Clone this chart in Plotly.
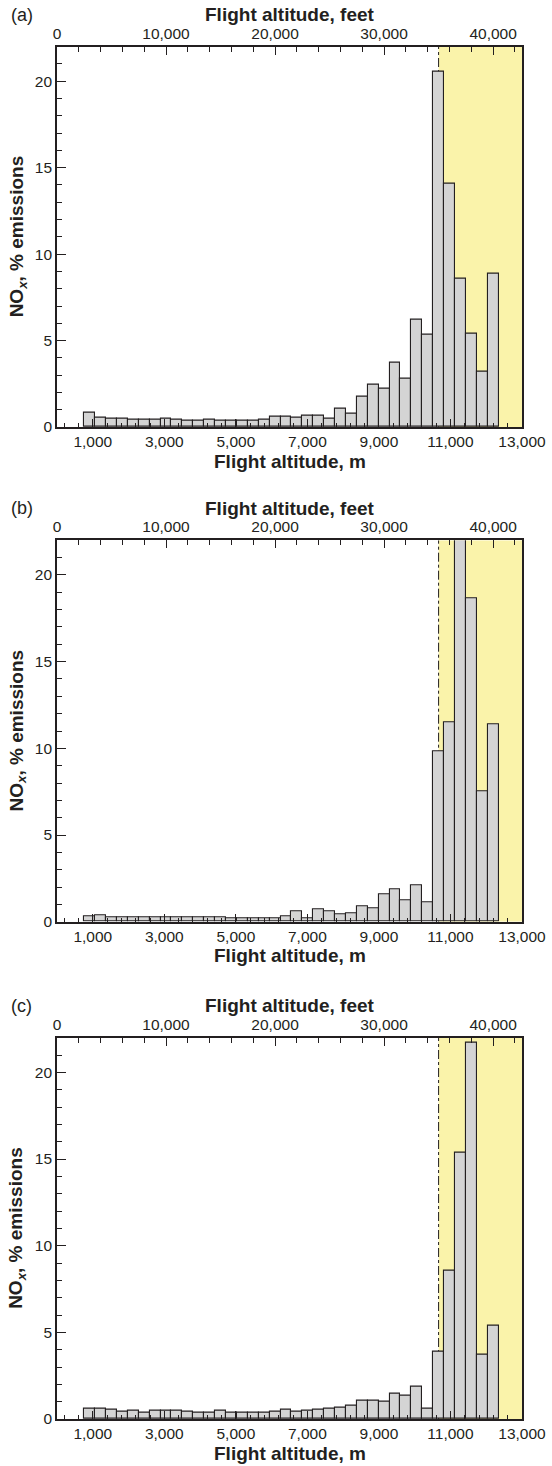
import plotly.graph_objects as go

W, H = 552, 1466

# NOx emissions (% of total) in 1000-ft altitude bins, centred on 3,000 ... 40,000 ft
altitude_ft = list(range(3000, 41000, 1000))

nox_a = [0.85, 0.54, 0.46, 0.48, 0.42, 0.42, 0.44, 0.50, 0.44, 0.38,
         0.38, 0.44, 0.38, 0.38, 0.38, 0.38, 0.40, 0.60, 0.60, 0.56,
         0.65, 0.63, 0.48, 1.04, 0.75, 1.76, 2.42, 2.23, 3.73, 2.81,
         6.21, 5.33, 20.53, 14.07, 8.57, 5.37, 3.19, 8.88]

nox_b = [0.29, 0.37, 0.25, 0.25, 0.25, 0.23, 0.25, 0.25, 0.25, 0.27,
         0.25, 0.23, 0.23, 0.19, 0.19, 0.19, 0.19, 0.19, 0.31, 0.58,
         0.19, 0.73, 0.58, 0.44, 0.46, 0.88, 0.77, 1.60, 1.85, 1.25,
         2.08, 1.12, 9.84, 11.52, 24.0, 18.65, 7.50, 11.38]

nox_c = [0.60, 0.60, 0.52, 0.44, 0.48, 0.38, 0.46, 0.50, 0.50, 0.42,
         0.35, 0.35, 0.48, 0.38, 0.35, 0.35, 0.38, 0.40, 0.52, 0.42,
         0.50, 0.54, 0.60, 0.63, 0.79, 1.03, 1.03, 0.98, 1.48, 1.32,
         1.85, 0.62, 3.88, 8.58, 15.38, 21.70, 3.71, 5.40]

panels = [("(a)", nox_a), ("(b)", nox_b), ("(c)", nox_c)]

m_ticks = [1000, 3000, 5000, 7000, 9000, 11000, 13000]
ft_ticks = [0, 10000, 20000, 30000, 40000]
y_ticks = [0, 5, 10, 15, 20]

M_PER_FT = 0.3048
X_MAX_M = 13000
X_MAX_FT = X_MAX_M / M_PER_FT
Y_MAX = 22
CRUISE_FT = 35000

# plot-area geometry in pixels: left, right, and (top, bottom) of each panel
PX_L, PX_R = 57, 522
PANEL_PX = [(46.7, 427.0), (540.3, 921.7), (1037.7, 1419.0)]

INK = "#231F20"
FONT = "Liberation Sans, Arial, Helvetica, sans-serif"
TICK_SIZE = 15.5
TITLE_SIZE = 19


def px_x(x):
    return x / W


def px_y(y):
    return 1 - y / H


fig = go.Figure()
layout = dict(
    width=W, height=H,
    margin=dict(l=0, r=0, t=0, b=0, autoexpand=False),
    paper_bgcolor="white", plot_bgcolor="white",
    showlegend=False,
    bargap=0,
    font=dict(family=FONT, color=INK, size=16),
)
shapes = []
annotations = []

for i, (label, values) in enumerate(panels):
    xm = f"x{2 * i + 1}" if i else "x"
    xf = f"x{2 * i + 2}"
    yy = f"y{i + 1}" if i else "y"
    xm_key = "xaxis" + (str(2 * i + 1) if i else "")
    xf_key = "xaxis" + str(2 * i + 2)
    y_key = "yaxis" + (str(i + 1) if i else "")
    top, bot = PANEL_PX[i]
    dom_x = [px_x(PX_L), px_x(PX_R)]
    dom_y = [px_y(bot), px_y(top)]

    # invisible anchor trace so the metre axis is laid out alongside the feet axis
    fig.add_trace(go.Scatter(
        x=[0, X_MAX_M], y=[0, 0], xaxis=xm, yaxis=yy,
        mode="markers", marker=dict(opacity=0, size=1), hoverinfo="skip",
    ))
    fig.add_trace(go.Bar(
        x=altitude_ft, y=values, width=1000,
        xaxis=xf, yaxis=yy,
        marker=dict(color="#D4D4D4", line=dict(color=INK, width=1.1)),
        hoverinfo="x+y",
    ))

    # bottom axis: metres
    layout[xm_key] = dict(
        domain=dom_x, anchor=yy, range=[0, X_MAX_M], automargin=False,
        tickmode="array", tickvals=m_ticks, tickformat=",d",
        ticks="inside", ticklen=8, tickwidth=1.3, tickcolor=INK,
        minor=dict(tick0=200, dtick=400, ticks="inside", ticklen=4,
                   tickwidth=1, tickcolor=INK, showgrid=False),
        showline=True, linecolor=INK, linewidth=1.6,
        showgrid=False, zeroline=False,
        tickfont=dict(size=TICK_SIZE, family=FONT, color=INK),
        fixedrange=True,
    )
    # top axis: feet
    layout[xf_key] = dict(
        overlaying=xm, side="top", anchor=yy, range=[0, X_MAX_FT], automargin=False,
        tickmode="array", tickvals=ft_ticks, tickformat=",d",
        ticks="inside", ticklen=8, tickwidth=1.3, tickcolor=INK,
        minor=dict(tick0=0, dtick=2000, ticks="inside", ticklen=5,
                   tickwidth=1, tickcolor=INK, showgrid=False),
        showline=True, linecolor=INK, linewidth=1.6,
        showgrid=False, zeroline=False,
        tickfont=dict(size=TICK_SIZE, family=FONT, color=INK),
        fixedrange=True,
    )
    layout[y_key] = dict(
        domain=dom_y, anchor=xm, range=[0, Y_MAX], automargin=False,
        tickmode="array", tickvals=y_ticks,
        ticks="inside", ticklen=9, tickwidth=1.3, tickcolor=INK,
        minor=dict(tick0=0, dtick=1, ticks="inside", ticklen=5,
                   tickwidth=1, tickcolor=INK, showgrid=False),
        showline=True, mirror=True, linecolor=INK, linewidth=1.6,
        showgrid=False, zeroline=False,
        tickfont=dict(size=TICK_SIZE, family=FONT, color=INK),
        fixedrange=True,
    )

    # cruise-altitude band and its lower bound
    shapes.append(dict(
        type="rect", xref=xf, yref=yy, x0=CRUISE_FT, x1=X_MAX_FT, y0=0, y1=Y_MAX,
        fillcolor="#FAF3AA", line=dict(width=0), layer="below",
    ))
    shapes.append(dict(
        type="line", xref=xf, yref=yy, x0=CRUISE_FT, x1=CRUISE_FT, y0=0, y1=Y_MAX,
        line=dict(color=INK, width=1, dash="dashdot"), layer="below",
    ))

    # titles and panel tag
    annotations.append(dict(
        text="<b>Flight altitude, feet</b>", xref="paper", yref="paper",
        x=px_x((PX_L + PX_R) / 2), y=px_y(top - 32), xanchor="center", yanchor="middle",
        showarrow=False, font=dict(size=TITLE_SIZE, family=FONT, color=INK),
    ))
    annotations.append(dict(
        text="<b>Flight altitude, m</b>", xref="paper", yref="paper",
        x=px_x((PX_L + PX_R) / 2), y=px_y(bot + 34), xanchor="center", yanchor="middle",
        showarrow=False, font=dict(size=TITLE_SIZE, family=FONT, color=INK),
    ))
    annotations.append(dict(
        text="<b>NO<sub><i>x</i></sub>, % emissions</b>", xref="paper", yref="paper",
        x=px_x(17.5), y=px_y((top + bot) / 2), xanchor="center", yanchor="middle",
        textangle=-90, showarrow=False, font=dict(size=TITLE_SIZE, family=FONT, color=INK),
    ))
    annotations.append(dict(
        text=label, xref="paper", yref="paper",
        x=px_x(9), y=px_y(top - 32), xanchor="left", yanchor="middle",
        showarrow=False, font=dict(size=18, family=FONT, color=INK),
    ))

layout["shapes"] = shapes
layout["annotations"] = annotations
fig.update_layout(**layout)

fig.write_html("out.html")
